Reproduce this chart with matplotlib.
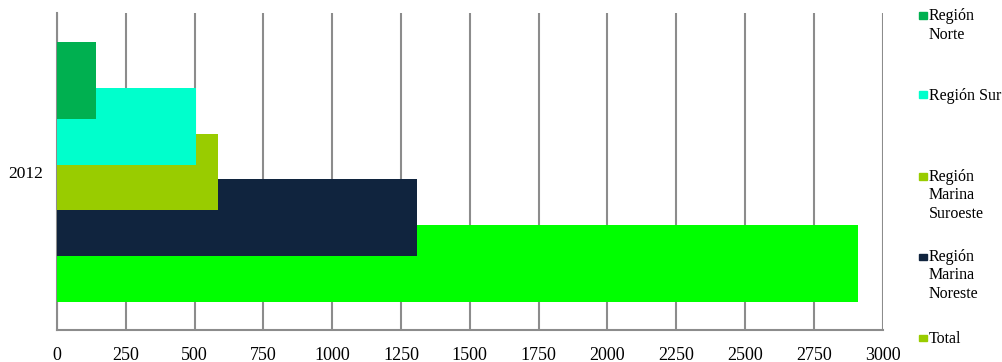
import numpy as np
import matplotlib.pyplot as plt
from matplotlib.patches import Rectangle

plt.rcParams['font.family'] = ['Liberation Serif', 'DejaVu Serif']

# Data
year = "2012"
series = ["Región\nNorte", "Región Sur", "Región\nMarina\nSuroeste",
          "Región\nMarina\nNoreste", "Total"]
values = [142, 505, 585, 1310, 2912]
bar_colors = ["#00B050", "#00FFCC", "#99CC00", "#10243E", "#00FF00"]
legend_colors = ["#00B050", "#00FFCC", "#99CC00", "#10243E", "#99CC00"]
x_ticks = np.arange(0, 3001, 250)

fig = plt.figure(figsize=(10.03, 3.62), dpi=100)
W, H = 1003, 362
ax = fig.add_axes([57 / W, (H - 330) / H, (882.5 - 57) / W, (330 - 13) / H])

# overlapping horizontal bars, one per series, stepping downward;
# earlier series sit on top of later ones
offsets = np.arange(len(values)) - (len(values) - 1) / 2
for i, (off, v, c) in enumerate(zip(offsets, values, bar_colors)):
    ax.barh(off, v, height=1.674, color=c, zorder=10 - i)

ax.set_ylim(3.445, -3.467)
ax.set_xlim(0, 3000)
ax.set_xticks(x_ticks)
ax.set_xticklabels([str(t) for t in x_ticks], fontsize=13)
ax.set_yticks([0])
ax.set_yticklabels([year], fontsize=12.5)
ax.tick_params(axis='x', length=0, pad=12)
ax.tick_params(axis='y', length=0, pad=10)

ax.grid(axis='x', color='#8c8c8c', linewidth=1.5, zorder=0)
for s in ['left', 'bottom', 'right']:
    ax.spines[s].set_color('#8c8c8c')
    ax.spines[s].set_linewidth(1.5)
ax.spines['top'].set_visible(False)
ax.spines['right'].set_visible(False)

# legend laid out by hand to match the reference spacing
# (first-line baselines in pixels, 18 px per line)
legend_baselines = [21, 100, 182, 262, 343]
line_px = 18
for lab, col, base in zip(series, legend_colors, legend_baselines):
    n = lab.count("\n")
    fig.patches.append(Rectangle((919 / W, (H - base + 2) / H), 8 / W, 6.5 / H,
                                 transform=fig.transFigure, color=col))
    fig.text(929 / W, (H - base - n * line_px) / H, lab, fontsize=11.5,
             va='baseline', ha='left', linespacing=1.22)

fig.savefig("out.png", dpi=100)
